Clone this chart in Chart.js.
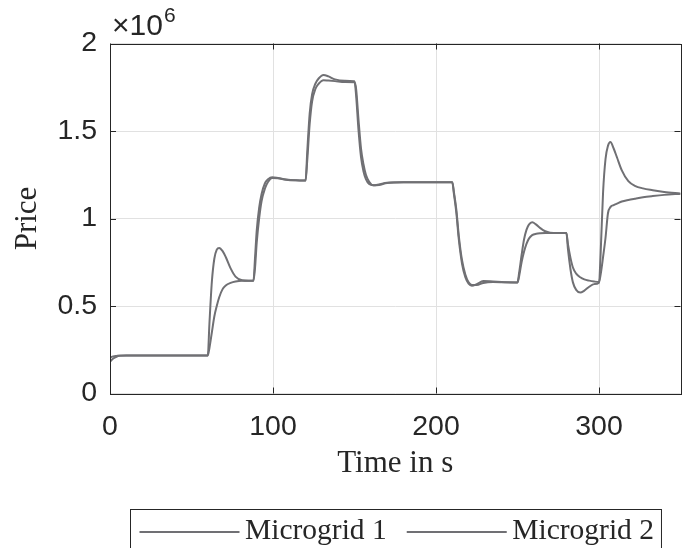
<!DOCTYPE html>
<html><head><meta charset="utf-8">
<script src="https://cdn.jsdelivr.net/npm/chart.js@4.4.1/dist/chart.umd.min.js"></script>
<style>html,body{margin:0;padding:0;background:#fff;}canvas{display:block;}</style>
</head><body>
<canvas id="c" width="686" height="548"></canvas>
<script>
// ---- data (price in units of 10^6) ----
const timeS = [0,2,4,6,10,30,60,
  61,62.5,64,65.5,67,69,71,74,77,81,85,88,
  89,90,91.5,93,95,97,99.5,103,108,114,120,
  121,122.5,124,126,128,131,134,138,144,150,
  151,152.5,154,155.5,157,159,161.5,165,170,180,195,210,
  211,212.5,214,216,218,220,222,225,229,235,242,250,
  251,252.5,254,255.5,257,259,261.5,264,267,270,275,280,
  281,282.5,284,286,288.5,291,294,297,300,
  301,302.5,304,305.5,307,309,311,314,318,322,327,333,340,350];
const microgrid1 = [0.205,0.212,0.215,0.217,0.217,0.217,0.217,
  0.26,0.35,0.44,0.50,0.55,0.595,0.617,0.632,0.640,0.644,0.644,0.644,
  0.72,0.86,1.00,1.10,1.17,1.21,1.232,1.23,1.222,1.218,1.217,
  1.33,1.54,1.67,1.74,1.77,1.79,1.788,1.785,1.78,1.778,
  1.74,1.56,1.40,1.31,1.25,1.21,1.19,1.192,1.203,1.207,1.207,1.207,
  1.15,1.05,0.90,0.76,0.68,0.635,0.62,0.620,0.632,0.637,0.636,0.635,
  0.67,0.75,0.81,0.855,0.885,0.905,0.913,0.916,0.917,0.917,0.917,0.917,
  0.85,0.775,0.72,0.685,0.664,0.652,0.645,0.640,0.637,
  0.68,0.78,0.89,1.03,1.065,1.077,1.085,1.097,1.106,1.113,1.121,1.128,1.135,1.142];
const microgrid2 = [0.182,0.200,0.210,0.215,0.217,0.217,0.217,
  0.40,0.64,0.77,0.822,0.832,0.815,0.78,0.715,0.668,0.647,0.644,0.644,
  0.78,0.93,1.06,1.14,1.20,1.225,1.236,1.232,1.223,1.218,1.217,
  1.38,1.60,1.71,1.77,1.80,1.82,1.812,1.795,1.787,1.785,
  1.70,1.50,1.35,1.27,1.225,1.197,1.19,1.195,1.205,1.207,1.207,1.207,
  1.14,1.03,0.88,0.74,0.665,0.628,0.616,0.625,0.643,0.640,0.636,0.635,
  0.69,0.79,0.88,0.935,0.965,0.978,0.965,0.945,0.927,0.919,0.917,0.917,
  0.82,0.71,0.635,0.592,0.577,0.588,0.610,0.625,0.633,
  0.80,1.15,1.34,1.415,1.437,1.40,1.35,1.275,1.213,1.187,1.172,1.162,1.152,1.142];
const seriesLabels = ['Microgrid 1', 'Microgrid 2'];
const xTickValues = [0, 100, 200, 300];
const yTickValues = [0, 0.5, 1, 1.5, 2];
const xTitle = 'Time in s';
const yTitle = 'Price';
const yMultiplierBase = '\u00d710';
const yMultiplierExp = '6';

// ---- styles ----
const LINE = 'rgb(112,112,116)';
const AXIS = '#262626';
const GRID = '#e1e1e1';
const SANS = '"Liberation Sans", Arial, Helvetica, sans-serif';
const SERIF = '"Liberation Serif", "Times New Roman", serif';

const framePlugin = {
  id: 'frame',
  afterDatasetsDraw(chart) {
    const {ctx, chartArea: ca, scales} = chart;
    ctx.save();
    ctx.strokeStyle = AXIS;
    ctx.lineWidth = 1;
    const tl = 6;
    ctx.beginPath();
    yTickValues.forEach(v => {
      const y = Math.round(scales.y.getPixelForValue(v)) + 0.5;
      ctx.moveTo(ca.left, y); ctx.lineTo(ca.left + tl, y);
      ctx.moveTo(ca.right, y); ctx.lineTo(ca.right - tl, y);
    });
    xTickValues.forEach(v => {
      const x = Math.round(scales.x.getPixelForValue(v)) + 0.5;
      ctx.moveTo(x, ca.bottom); ctx.lineTo(x, ca.bottom - tl);
      ctx.moveTo(x, ca.top); ctx.lineTo(x, ca.top + tl);
    });
    ctx.stroke();
    ctx.strokeRect(Math.round(ca.left) + 0.5, Math.round(ca.top) + 0.5,
      Math.round(ca.right) - Math.round(ca.left), Math.round(ca.bottom) - Math.round(ca.top));
    // exponent label
    ctx.fillStyle = AXIS;
    ctx.textBaseline = 'alphabetic';
    ctx.textAlign = 'left';
    ctx.font = '30px ' + SANS;
    const bx = ca.left + 2;
    ctx.fillText(yMultiplierBase, bx, ca.top - 8.5);
    const w = ctx.measureText(yMultiplierBase).width;
    ctx.font = '21px ' + SANS;
    ctx.fillText(yMultiplierExp, bx + w + 1, ca.top - 22);
    ctx.restore();
  }
};

const legendPlugin = {
  id: 'boxLegend',
  afterDraw(chart) {
    const {ctx, chartArea: ca} = chart;
    const ds = chart.data.datasets;
    ctx.save();
    ctx.font = '29.5px ' + SERIF;
    const lineLen = 100, gap = 5.5, spacing = 20, padL = 9, padR = 7.5;
    const widths = ds.map(d => ctx.measureText(d.label).width);
    const total = padL + padR + widths.reduce((s, w) => s + lineLen + gap + w, 0) + spacing * (ds.length - 1);
    const cx = (ca.left + ca.right) / 2;
    const left = Math.round(cx - total / 2) + 0.5;
    const top = Math.round(ca.bottom + 115) + 0.5;
    ctx.strokeStyle = AXIS;
    ctx.lineWidth = 1;
    ctx.strokeRect(left, top, total, 100);
    let x = left + padL;
    ds.forEach((d, i) => {
      ctx.strokeStyle = d.borderColor;
      ctx.lineWidth = d.borderWidth;
      ctx.beginPath();
      ctx.moveTo(x, top + 22.5); ctx.lineTo(x + lineLen, top + 22.5);
      ctx.stroke();
      x += lineLen + gap;
      ctx.fillStyle = AXIS;
      ctx.textBaseline = 'alphabetic';
      ctx.fillText(d.label, x, top + 29.5);
      x += widths[i] + spacing;
    });
    ctx.restore();
  }
};

const mk = (label, vals) => ({
  label,
  data: timeS.map((t, i) => ({x: t, y: vals[i]})),
  borderColor: LINE,
  borderWidth: 2,
  pointRadius: 0,
  fill: false,
  cubicInterpolationMode: 'monotone'
});

new Chart(document.getElementById('c'), {
  type: 'line',
  data: { datasets: [mk(seriesLabels[0], microgrid1), mk(seriesLabels[1], microgrid2)] },
  options: {
    responsive: false,
    animation: false,
    devicePixelRatio: 1,
    layout: { padding: { left: 0, right: 5.5, top: 43.5, bottom: 0 } },
    plugins: { legend: { display: false }, tooltip: { enabled: false } },
    scales: {
      x: {
        type: 'linear', min: 0, max: 350,
        afterBuildTicks: s => { s.ticks = xTickValues.map(v => ({value: v})); },
        afterFit: s => { s.height = 154.5; },
        grid: { color: GRID, lineWidth: 1, drawTicks: false },
        border: { display: false },
        ticks: { color: AXIS, font: { family: SANS, size: 28.5 }, padding: 17, maxRotation: 0,
                 callback: v => String(v) },
        title: { display: true, text: xTitle, color: AXIS, font: { family: SERIF, size: 31 },
                 padding: { top: 0, bottom: 65.5 } }
      },
      y: {
        type: 'linear', min: 0, max: 2,
        afterBuildTicks: s => { s.ticks = yTickValues.map(v => ({value: v})); },
        afterFit: s => { s.width = 110; },
        grid: { color: GRID, lineWidth: 1, drawTicks: false },
        border: { display: false },
        ticks: { color: AXIS, font: { family: SANS, size: 28.5 }, padding: 13,
                 callback: v => String(v) },
        title: { display: true, text: yTitle, color: AXIS, font: { family: SERIF, size: 31 },
                 padding: { top: 9, bottom: 0 } }
      }
    }
  },
  plugins: [framePlugin, legendPlugin]
});
</script>
</body></html>
